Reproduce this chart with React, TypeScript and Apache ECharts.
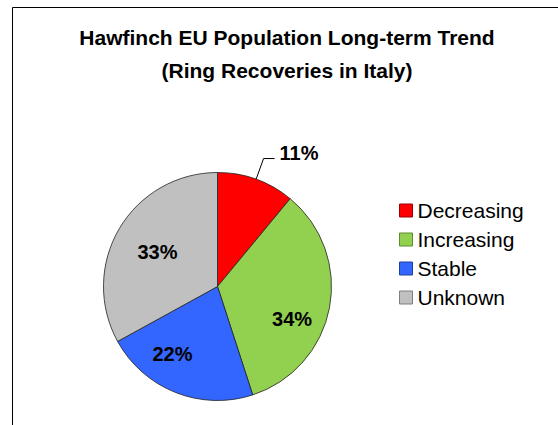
import React, { useEffect, useRef } from "react";
import * as echarts from "echarts";

const categories = ["Decreasing", "Increasing", "Stable", "Unknown"];
const values = [11, 34, 22, 33];
const colors = ["#FF0000", "#92D050", "#3366FF", "#C0C0C0"];
const legendBorders = ["#990000", "#5E8A2E", "#1F3F9E", "#7F7F7F"];
const titleLines = ["Hawfinch EU Population Long-term Trend", "(Ring Recoveries in Italy)"];
const labelShift = [[0, -6], [-3, 18], [-16, -6], [8, 6]];

const FONT = 'Arial, "Liberation Sans", sans-serif';

export default function App() {
  const ref = useRef<HTMLDivElement>(null);
  useEffect(() => {
    document.body.style.margin = "0";
    const chart = echarts.init(ref.current!, null, { renderer: "svg" });
    const center = [217.5, 286.5];
    const R = 114;
    chart.setOption({
      animation: false,
      backgroundColor: "#fff",
      title: {
        text: titleLines.join("\n"),
        left: 287,
        top: 21,
        padding: 0,
        textAlign: "center",
        textStyle: {
          fontFamily: FONT,
          fontSize: 21,
          fontWeight: "bold",
          color: "#000",
          lineHeight: 33,
        },
      },
      legend: {
        orient: "vertical",
        left: 399,
        top: 200,
        padding: 0,
        itemWidth: 13,
        itemHeight: 13,
        itemGap: 8,
        icon: "rect",
        selectedMode: false,
        data: categories.map((n, i) => ({
          name: n,
          itemStyle: { color: colors[i], borderColor: legendBorders[i], borderWidth: 1 },
        })),
        textStyle: { fontFamily: FONT, fontSize: 21, color: "#000", lineHeight: 21 },
      },
      graphic: [
        { type: "line", shape: { x1: 12.5, y1: 7.5, x2: 560, y2: 7.5 }, style: { stroke: "#000", lineWidth: 1 } },
        { type: "line", shape: { x1: 12.5, y1: 7.5, x2: 12.5, y2: 430 }, style: { stroke: "#000", lineWidth: 1 } },
      ],
      series: [
        {
          type: "pie",
          center,
          radius: [0, R],
          startAngle: 90,
          clockwise: true,
          silent: true,
          label: { show: false },
          labelLine: { show: false },
          itemStyle: { borderColor: "#222", borderWidth: 0.8 },
          data: categories.map((n, i) => ({ name: n, value: values[i], itemStyle: { color: colors[i] } })),
        },
        {
          type: "pie",
          center,
          radius: [38, R],
          startAngle: 90,
          clockwise: true,
          silent: true,
          legendHoverLink: false,
          itemStyle: { color: "rgba(0,0,0,0)", borderWidth: 0 },
          label: {
            show: true,
            position: "inside",
            formatter: "{c}%",
            fontFamily: FONT,
            fontSize: 20,
            fontWeight: "bold",
            color: "#000",
          },
          labelLayout: (p: any) => ({ dx: labelShift[p.dataIndex][0], dy: labelShift[p.dataIndex][1] }),
          data: categories.map((n, i) =>
            i === 0
              ? {
                  name: n,
                  value: values[i],
                  label: { position: "outside", distanceToLabelLine: 5 },
                  labelLine: { show: true, length: 22, length2: 11, lineStyle: { color: "#000", width: 1 } },
                }
              : { name: n, value: values[i] }
          ),
        },
      ],
    });
    return () => chart.dispose();
  }, []);
  return <div ref={ref} style={{ width: 558, height: 425, position: "absolute", left: 0, top: 0 }} />;
}
